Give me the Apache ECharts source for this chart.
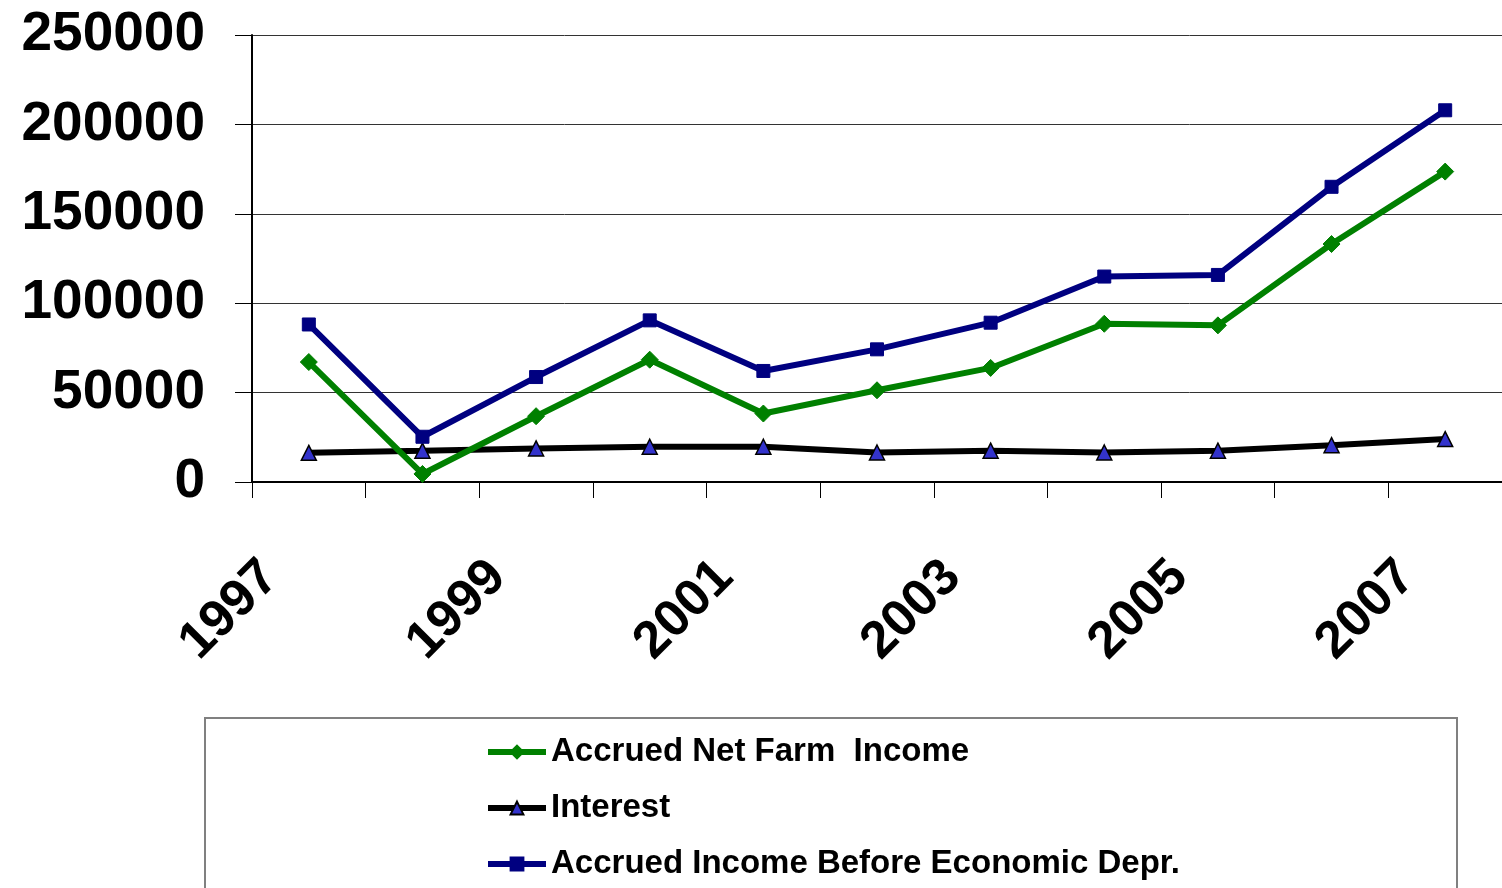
<!DOCTYPE html>
<html>
<head>
<meta charset="utf-8">
<style>
html,body{margin:0;padding:0;background:#fff;}
#chart{width:1502px;height:888px;}
</style>
<script src="https://cdn.jsdelivr.net/npm/echarts@6/dist/echarts.min.js"></script>
</head>
<body>
<div id="chart"></div>
<script>
const years = ['1997','1998','1999','2000','2001','2002','2003','2004','2005','2006','2007'];
const netFarmIncome = [67100, 4500, 36800, 68400, 38300, 51300, 63800, 88500, 87600, 133100, 173600];
const interest = [16300, 17500, 18800, 19700, 19700, 16500, 17500, 16500, 17500, 20600, 24000];
const incomeBeforeDepr = [88100, 25300, 58700, 90400, 62100, 74200, 89100, 114900, 115800, 165100, 207900];
const seriesNames = ['Accrued Net Farm  Income', 'Interest', 'Accrued Income Before Economic Depr.'];

const chart = echarts.init(document.getElementById('chart'), null, {renderer: 'canvas'});
const font = "'Liberation Sans', Arial, sans-serif";
chart.setOption({
  animation: false,
  backgroundColor: '#fff',
  grid: {left: 252, top: 35, width: 1254, height: 447, containLabel: false},
  graphic: [{
    type: 'rect', left: 204, top: 717, z: -1,
    shape: {width: 1252, height: 200},
    style: {fill: '#fff', stroke: '#808080', lineWidth: 2}
  }],
  legend: {
    orient: 'vertical', left: 485, top: 732, padding: 0, height: 156,
    itemWidth: 58, itemHeight: 16, itemGap: 16,
    lineStyle: {width: 6},
    textStyle: {fontFamily: font, fontWeight: 'bold', fontSize: 33, color: '#000', lineHeight: 40},
    data: seriesNames
  },
  xAxis: {
    type: 'category', data: years, boundaryGap: true,
    axisLine: {lineStyle: {color: '#000', width: 2}},
    axisTick: {show: true, interval: 0, length: 16, lineStyle: {color: '#000', width: 1}},
    axisLabel: {interval: 1, rotate: 45, margin: 49, padding: [0, 54, 0, 0],
      fontFamily: font, fontWeight: 'bold', fontSize: 52, color: '#000'},
    splitLine: {show: false}
  },
  yAxis: {
    type: 'value', min: 0, max: 250000, interval: 50000,
    axisLine: {show: true, lineStyle: {color: '#000', width: 2}},
    axisTick: {show: true, length: 17, lineStyle: {color: '#000', width: 1}},
    axisLabel: {margin: 47, formatter: function (v) { return String(v); },
      fontFamily: font, fontWeight: 'bold', fontSize: 55, color: '#000', padding: [0, 0, 8, 0]},
    splitLine: {show: true, lineStyle: {color: '#333', width: 1}}
  },
  series: [
    {
      name: seriesNames[0], type: 'line', data: netFarmIncome,
      symbol: 'diamond', symbolSize: 17,
      lineStyle: {color: '#008000', width: 6},
      itemStyle: {color: '#008000', borderColor: '#008000', borderWidth: 1},
      z: 3
    },
    {
      name: seriesNames[1], type: 'line', data: interest,
      symbol: 'triangle', symbolSize: 15,
      lineStyle: {color: '#000', width: 6},
      itemStyle: {color: '#3333CC', borderColor: '#000', borderWidth: 1.5},
      z: 2
    },
    {
      name: seriesNames[2], type: 'line', data: incomeBeforeDepr,
      symbol: 'rect', symbolSize: 13,
      lineStyle: {color: '#000080', width: 6},
      itemStyle: {color: '#000080', borderColor: '#000080', borderWidth: 1},
      z: 4
    }
  ]
});
</script>
</body>
</html>
